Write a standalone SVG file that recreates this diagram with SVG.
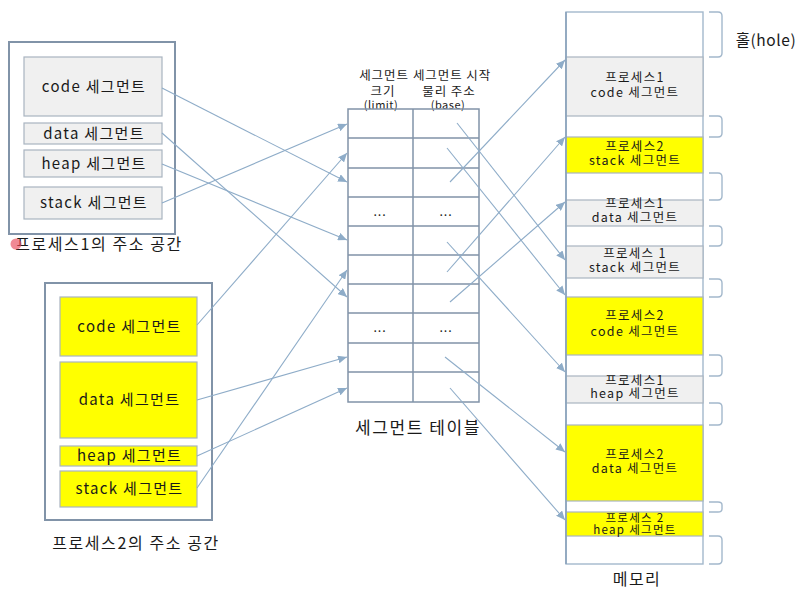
<svg xmlns="http://www.w3.org/2000/svg" width="800" height="597" viewBox="0 0 800 597">
<defs>
<marker id="ah" markerUnits="userSpaceOnUse" markerWidth="10" markerHeight="8" refX="9" refY="4" orient="auto">
<path d="M0,0 L9,4 L0,8 z" fill="#8eacc8"/>
</marker>
<style>
text{font-family:"Noto Sans CJK KR","Malgun Gothic","Liberation Sans",sans-serif;fill:#1a1a1a;text-anchor:middle}
.outer{fill:#fff;stroke:#8193a8;stroke-width:2}
.g{fill:#f0f0f0;stroke:#a9b4c0;stroke-width:1.2}
.y{fill:#ffff00;stroke:#a9b4c0;stroke-width:1.2}
.seg{font-size:15px;letter-spacing:1.3px}
.lbl{font-size:16px;letter-spacing:1.6px}
.mt{font-size:12.5px;letter-spacing:1.3px}
.hd{font-size:12.5px;letter-spacing:0.9px}
.sm{font-size:11px;letter-spacing:0.5px}
.tl{stroke:#8193a8;stroke-width:1.5;fill:none}
.cn{stroke:#8eacc8;stroke-width:1.1;fill:none;marker-end:url(#ah)}
.br{stroke:#a3b8cc;stroke-width:1.4;fill:none}
</style>
</defs>
<rect width="800" height="597" fill="#fff"/>

<g id="process1">
<rect class="outer" x="9" y="42" width="166" height="192"/>
<rect class="g" x="24" y="57" width="138" height="59"/>
<text class="seg" x="94" y="92">code 세그먼트</text>
<rect class="g" x="24" y="123" width="138" height="21"/>
<text class="seg" x="94" y="139">data 세그먼트</text>
<rect class="g" x="24" y="150" width="138" height="27"/>
<text class="seg" x="94" y="169">heap 세그먼트</text>
<rect class="g" x="24" y="187" width="138" height="32"/>
<text class="seg" x="94" y="208">stack 세그먼트</text>
<text class="lbl" x="99" y="250">프로세스1의 주소 공간</text>
<circle cx="16" cy="244" r="5.5" fill="#e84a5a" opacity="0.65"/>
</g>

<g id="process2">
<rect class="outer" x="45" y="283" width="167" height="237"/>
<rect class="y" x="60" y="297" width="137" height="59"/>
<text class="seg" x="129.5" y="332">code 세그먼트</text>
<rect class="y" x="60" y="362" width="137" height="76"/>
<text class="seg" x="129.5" y="405">data 세그먼트</text>
<rect class="y" x="60" y="446" width="137" height="20"/>
<text class="seg" x="129.5" y="461">heap 세그먼트</text>
<rect class="y" x="60" y="471" width="137" height="36"/>
<text class="seg" x="129.5" y="494">stack 세그먼트</text>
<text class="lbl" x="136" y="549">프로세스2의 주소 공간</text>
</g>

<g id="segment-table">
<text class="hd" y="80"><tspan x="384">세그먼트</tspan><tspan x="383" dy="16">크기</tspan><tspan class="sm" x="381" dy="13">(limit)</tspan></text>
<text class="hd" y="80"><tspan x="452">세그먼트 시작</tspan><tspan x="449" dy="16">물리 주소</tspan><tspan class="sm" x="448" dy="13">(base)</tspan></text>
<rect class="tl" x="348" y="109" width="131" height="293"/>
<line class="tl" x1="413" y1="109" x2="413" y2="402"/>
<path class="tl" d="M348,138H479M348,168H479M348,197H479M348,226H479M348,255H479M348,284H479M348,313H479M348,343H479M348,372H479"/>
<text class="hd" x="380" y="216">...</text>
<text class="hd" x="446" y="216">...</text>
<text class="hd" x="380" y="332">...</text>
<text class="hd" x="446" y="332">...</text>
<text x="418" y="434" style="font-size:17px;letter-spacing:1.6px">세그먼트 테이블</text>
</g>

<g id="memory">
<rect x="566" y="12" width="137" height="552" fill="#fff" stroke="#a3b8cc" stroke-width="1.4"/>
<rect class="g" x="566" y="57" width="137" height="59"/>
<text class="mt" y="82"><tspan x="635">프로세스1</tspan><tspan x="635" dy="15">code 세그먼트</tspan></text>
<rect class="y" x="566" y="137" width="137" height="36"/>
<text class="mt" y="151"><tspan x="635">프로세스2</tspan><tspan x="635" dy="14">stack 세그먼트</tspan></text>
<rect class="g" x="566" y="200" width="137" height="26"/>
<text class="mt" y="208"><tspan x="635">프로세스1</tspan><tspan x="635" dy="14">data 세그먼트</tspan></text>
<rect class="g" x="566" y="246" width="137" height="32"/>
<text class="mt" y="258"><tspan x="635">프로세스 1</tspan><tspan x="635" dy="14">stack 세그먼트</tspan></text>
<rect class="y" x="566" y="297" width="137" height="58"/>
<text class="mt" y="320"><tspan x="635">프로세스2</tspan><tspan x="635" dy="16">code 세그먼트</tspan></text>
<rect class="g" x="566" y="376" width="137" height="27"/>
<text class="mt" y="385"><tspan x="635">프로세스1</tspan><tspan x="635" dy="13">heap 세그먼트</tspan></text>
<rect class="y" x="566" y="425" width="137" height="76"/>
<text class="mt" y="459"><tspan x="635">프로세스2</tspan><tspan x="635" dy="14">data 세그먼트</tspan></text>
<rect class="y" x="566" y="512" width="137" height="24"/>
<text class="mt" y="522" style="font-size:11.5px"><tspan x="635">프로세스 2</tspan><tspan x="635" dy="12">heap 세그먼트</tspan></text>
<line x1="566" y1="12" x2="566" y2="564" stroke="#8aa2bb" stroke-width="1.6"/>
<text x="637" y="585" style="font-size:16px;letter-spacing:1.5px">메모리</text>
</g>

<g id="holes">
<path class="br" d="M709,12H718Q722,12 722,16V53Q722,57 718,57H709"/>
<path class="br" d="M709,116H718Q722,116 722,120V133Q722,137 718,137H709"/>
<path class="br" d="M709,173H718Q722,173 722,177V196Q722,200 718,200H709"/>
<path class="br" d="M709,226H718Q722,226 722,230V242Q722,246 718,246H709"/>
<path class="br" d="M709,279H718Q722,279 722,283V293Q722,297 718,297H709"/>
<path class="br" d="M709,355H718Q722,355 722,359V372Q722,376 718,376H709"/>
<path class="br" d="M709,403H718Q722,403 722,407V421Q722,425 718,425H709"/>
<path class="br" d="M709,502H718Q722,502 722,505V509Q722,512 718,512H709"/>
<path class="br" d="M709,536H718Q722,536 722,540V560Q722,564 718,564H709"/>
<text x="766" y="46" style="font-size:15.5px;letter-spacing:0.6px">홀(hole)</text>
</g>

<g id="connectors">
<line class="cn" x1="162" y1="88" x2="347" y2="182"/>
<line class="cn" x1="162" y1="133" x2="347" y2="297"/>
<line class="cn" x1="162" y1="164" x2="347" y2="240"/>
<line class="cn" x1="162" y1="203" x2="347" y2="124"/>
<line class="cn" x1="197" y1="325" x2="347" y2="153"/>
<line class="cn" x1="197" y1="400" x2="347" y2="357"/>
<line class="cn" x1="197" y1="456" x2="347" y2="388"/>
<line class="cn" x1="197" y1="488" x2="347" y2="270"/>
<line class="cn" x1="457" y1="123" x2="565" y2="260"/>
<line class="cn" x1="447" y1="148" x2="565" y2="295"/>
<line class="cn" x1="450" y1="182" x2="565" y2="60"/>
<line class="cn" x1="447" y1="242" x2="565" y2="372"/>
<line class="cn" x1="447" y1="272" x2="565" y2="137"/>
<line class="cn" x1="450" y1="302" x2="565" y2="202"/>
<line class="cn" x1="445" y1="357" x2="565" y2="452"/>
<line class="cn" x1="450" y1="388" x2="565" y2="520"/>
</g>
</svg>
